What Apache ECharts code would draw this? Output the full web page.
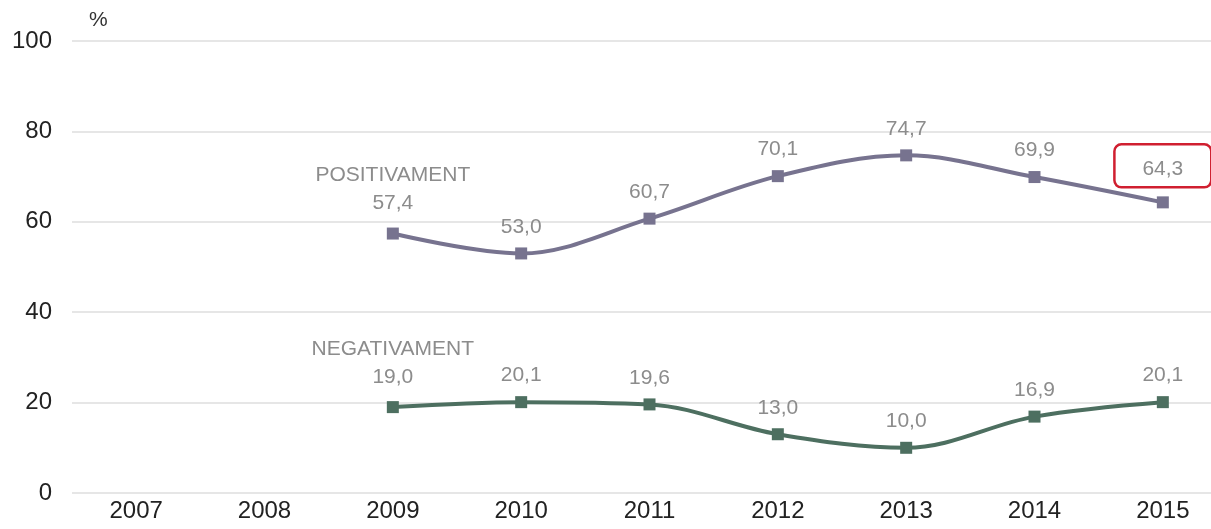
<!DOCTYPE html>
<html><head><meta charset="utf-8">
<script src="https://cdn.jsdelivr.net/npm/echarts@6/dist/echarts.min.js"></script>
<style>html,body{margin:0;padding:0;background:#fff}#c{width:1211px;height:529px}</style>
</head><body><div id="c"></div>
<script>
const years = ['2007','2008','2009','2010','2011','2012','2013','2014','2015'];
const positiveName = 'POSITIVAMENT';
const negativeName = 'NEGATIVAMENT';
const positive = [null, null, 57.4, 53.0, 60.7, 70.1, 74.7, 69.9, 64.3];
const negative = [null, null, 19.0, 20.1, 19.6, 13.0, 10.0, 16.9, 20.1];
const yTicks = { min: 0, max: 100, interval: 20 };
const highlightIndex = 8;

const FONT = 'Liberation Sans, Arial, sans-serif';
const fmt = v => v.toFixed(1).replace('.', ',');
const firstIdx = arr => arr.findIndex(v => v != null);

function buildData(arr, name, highlight) {
  const fi = firstIdx(arr);
  return arr.map((v, i) => {
    if (v == null) return null;
    const item = { value: v };
    if (i === fi) {
      item.label = { formatter: () => name + '\n' + fmt(v), lineHeight: 28 };
    }
    if (highlight && i === highlightIndex) {
      item.label = {
        borderColor: '#d01f30', borderWidth: 2.5, borderRadius: 7,
        padding: [14, 28, 8, 28], distance: 9
      };
    }
    return item;
  });
}

function series(arr, name, color, highlight) {
  return {
    type: 'line', name, smooth: 0.35, connectNulls: false,
    data: buildData(arr, name, highlight),
    symbol: 'rect', symbolSize: 12,
    lineStyle: { width: 4, color },
    itemStyle: { color },
    label: {
      show: true, position: 'top', distance: 10,
      color: '#8c8c8c', fontSize: 21, fontFamily: FONT,
      formatter: p => fmt(p.value)
    },
    z: 3
  };
}

const chart = echarts.init(document.getElementById('c'), null, { renderer: 'canvas' });
chart.setOption({
  animation: false,
  backgroundColor: '#ffffff',
  grid: { left: 72, width: 1155, top: 41, bottom: 36, outerBoundsMode: 'none', containLabel: false },
  xAxis: {
    type: 'category', data: years, boundaryGap: true,
    axisLine: { show: false }, axisTick: { show: false },
    axisLabel: { color: '#222', fontSize: 24, margin: 6, fontFamily: FONT }
  },
  yAxis: {
    type: 'value', min: yTicks.min, max: yTicks.max, interval: yTicks.interval,
    name: '%', nameLocation: 'end', nameGap: 10,
    nameTextStyle: { color: '#333', fontSize: 21, align: 'left', padding: [0, 0, 0, 17], fontFamily: FONT },
    axisLine: { show: false }, axisTick: { show: false },
    axisLabel: { color: '#222', fontSize: 24, margin: 20, fontFamily: FONT },
    splitLine: { lineStyle: { color: '#dedede', width: 1.5 } }
  },
  series: [
    series(positive, positiveName, '#77738f', true),
    series(negative, negativeName, '#4d6f60', false)
  ]
});
</script>
</body></html>
